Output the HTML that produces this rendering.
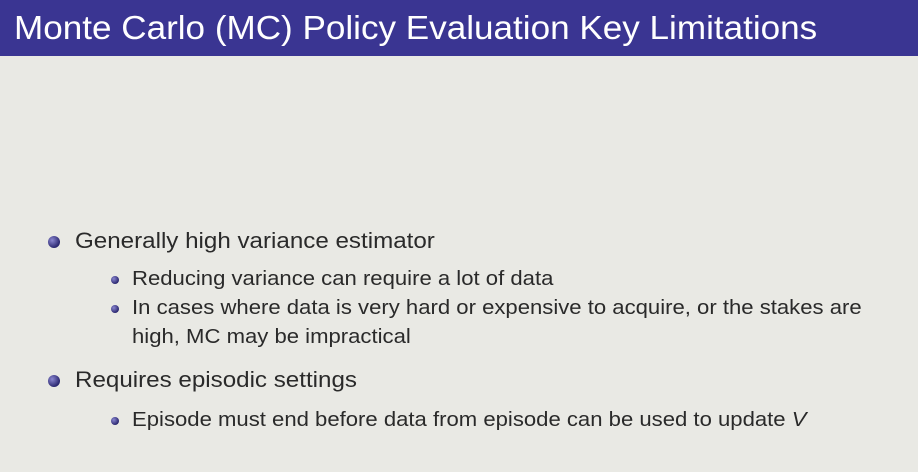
<!DOCTYPE html>
<html><head><meta charset="utf-8"><style>
body{margin:0;width:918px;height:472px;background:#e9e9e4;font-family:"Liberation Sans",sans-serif;overflow:hidden;position:relative}
.bar{position:absolute;left:0;top:0;width:918px;height:56px;background:#3a3592}
.title{position:absolute;left:14px;top:9px;color:#fff;font-size:33px;white-space:nowrap;transform:scaleX(1.063);transform-origin:0 0}
.t{position:absolute;white-space:nowrap;color:#2a2a2a;transform-origin:0 0}
.l1{left:75px;font-size:22px;transform:scaleX(1.098)}
.l2{left:132px;font-size:20.5px;transform:scaleX(1.078)}
.b{position:absolute;border-radius:50%;background:radial-gradient(circle at 35% 35%,#8a86d0,#2b2870 70%)}
.b1{left:48px;width:12px;height:12px}
.b2{left:111px;width:8px;height:8px}
</style></head><body>
<div class="bar"></div>
<div class="title">Monte Carlo (MC) Policy Evaluation Key Limitations</div>

<div class="b b1" style="top:236px"></div>
<div class="t l1" style="top:228px">Generally high variance estimator</div>

<div class="b b2" style="top:276px"></div>
<div class="t l2" style="top:267px">Reducing variance can require a lot of data</div>

<div class="b b2" style="top:305px"></div>
<div class="t l2" style="top:296px">In cases where data is very hard or expensive to acquire, or the stakes are</div>
<div class="t l2" style="top:325px">high, MC may be impractical</div>

<div class="b b1" style="top:375px"></div>
<div class="t l1" style="top:367px">Requires episodic settings</div>

<div class="b b2" style="top:417px"></div>
<div class="t l2" style="top:408px">Episode must end before data from episode can be used to update <i>V</i></div>
</body></html>
